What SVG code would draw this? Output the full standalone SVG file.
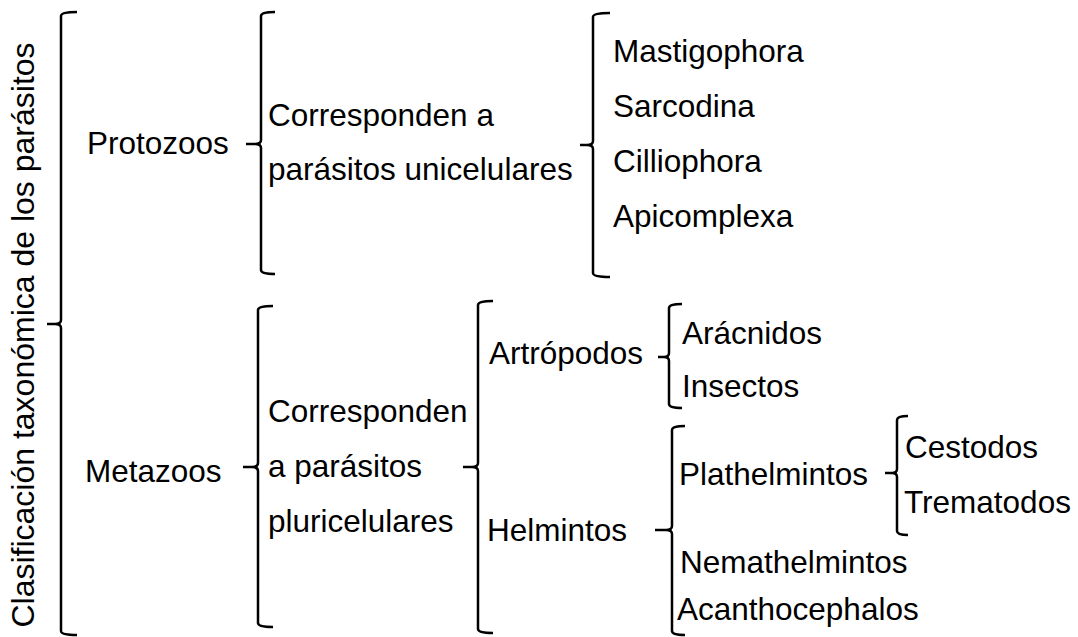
<svg xmlns="http://www.w3.org/2000/svg" width="1078" height="637" viewBox="0 0 1078 637">
<style>
text{font-family:"Liberation Sans",Arial,sans-serif;font-size:31.5px;fill:#000}
.b{fill:none;stroke:#000;stroke-width:2.5;stroke-linecap:butt;stroke-linejoin:round}
</style>
<rect width="1078" height="637" fill="#fff"/>
<g id="connectors">
<path class="b" d="M77,12 Q61,12 61,16 L61,320 Q61,324 55,324 L47,324 M55,324 Q61,324 61,328 L61,631 Q61,635 77,635"/>
<path class="b" d="M275,12 Q261,12 261,16 L261,140 Q261,144 255,144 L246,144 M255,144 Q261,144 261,148 L261,270 Q261,274 275,274"/>
<path class="b" d="M610,13 Q593,13 593,17 L593,141 Q593,145 587,145 L580,145 M587,145 Q593,145 593,149 L593,273 Q593,277 610,277"/>
<path class="b" d="M273,306 Q258,306 258,310 L258,463 Q258,467 252,467 L243,467 M252,467 Q258,467 258,471 L258,623 Q258,627 273,627"/>
<path class="b" d="M493,301 Q478,301 478,305 L478,463 Q478,467 472,467 L463,467 M472,467 Q478,467 478,471 L478,629 Q478,633 493,633"/>
<path class="b" d="M682,304 Q669,304 669,308 L669,353 Q669,357 664,357 L658,357 M664,357 Q669,357 669,361 L669,404 Q669,408 682,408"/>
<path class="b" d="M685,426 Q672,426 672,430 L672,526 Q672,530 666,530 L655,530 M666,530 Q672,530 672,534 L672,631 Q672,635 685,635"/>
<path class="b" d="M908,416 Q897,416 897,420 L897,469 Q897,473 892,473 L885,473 M892,473 Q897,473 897,477 L897,531 Q897,535 908,535"/>
</g>
<g id="root"><text transform="translate(34,335) rotate(-90)" text-anchor="middle" style="font-size:32px">Clasificación taxonómica de los parásitos</text></g>
<g id="protozoos"><text x="87" y="154">Protozoos</text></g>
<g id="desc-uni"><text x="268" y="126">Corresponden a</text><text x="268" y="180">parásitos unicelulares</text></g>
<g id="mastigophora"><text x="613" y="62">Mastigophora</text></g>
<g id="sarcodina"><text x="613" y="117">Sarcodina</text></g>
<g id="cilliophora"><text x="613" y="172">Cilliophora</text></g>
<g id="apicomplexa"><text x="613" y="227">Apicomplexa</text></g>
<g id="metazoos"><text x="85" y="482">Metazoos</text></g>
<g id="desc-pluri"><text x="268" y="422">Corresponden</text><text x="268" y="477">a parásitos</text><text x="268" y="532">pluricelulares</text></g>
<g id="artropodos"><text x="489" y="364">Artrópodos</text></g>
<g id="helmintos"><text x="487" y="541">Helmintos</text></g>
<g id="aracnidos"><text x="682" y="344">Arácnidos</text></g>
<g id="insectos"><text x="682" y="397">Insectos</text></g>
<g id="plathelmintos"><text x="679" y="485">Plathelmintos</text></g>
<g id="nemathelmintos"><text x="680" y="573">Nemathelmintos</text></g>
<g id="acanthocephalos"><text x="677" y="620">Acanthocephalos</text></g>
<g id="cestodos"><text x="905" y="458">Cestodos</text></g>
<g id="trematodos"><text x="904" y="513">Trematodos</text></g>
</svg>
